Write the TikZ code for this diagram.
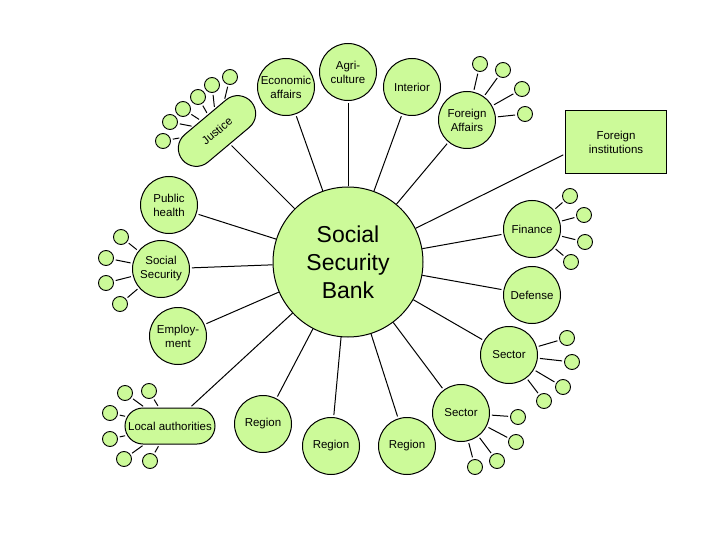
\documentclass[tikz,border=0pt]{standalone}
\usepackage{fontspec}
\setmainfont{Liberation Sans}
\usetikzlibrary{shapes.misc}
\definecolor{nodegreen}{RGB}{204,250,153}
\begin{document}
\begin{tikzpicture}[x=1pt,y=-1pt,
  ball/.style={circle,draw=black,fill=nodegreen,line width=1pt,minimum size=57pt,inner sep=0pt,align=center,font=\fontsize{11.5}{14}\selectfont},
  sat/.style={circle,draw=black,fill=nodegreen,line width=0.9pt,minimum size=15pt,inner sep=0pt},
  pill/.style={rounded rectangle,draw=black,fill=nodegreen,line width=1pt,minimum height=36pt,inner sep=2pt,font=\fontsize{11.5}{14}\selectfont},
  link/.style={line width=1pt,shorten >=2pt},
  stub/.style={line width=1pt,shorten >=2pt,shorten <=2pt}]
\useasboundingbox (0,0) rectangle (720,540);

% centre
\node[ball,minimum size=150pt,font=\fontsize{23}{28}\selectfont] (ssb) at (348,262) {Social\\Security\\Bank};

% main nodes
\node[ball] (econ) at (286,87) {Economic\\affairs};
\node[ball] (agri) at (348,72) {Agri-\\culture};
\node[ball] (inter) at (412,87) {Interior};
\node[ball] (fa) at (467,120) {Foreign\\Affairs};
\node[draw=black,fill=nodegreen,line width=1pt,minimum width=101pt,minimum height=63pt,inner sep=0pt,align=center,font=\fontsize{11.5}{14}\selectfont] (fi) at (616,142) {Foreign\\institutions};
\node[ball] (fin) at (532,229) {Finance};
\node[ball] (def) at (532,295) {Defense};
\node[ball] (sec1) at (509,355) {Sector};
\node[ball] (sec2) at (461,413) {Sector};
\node[ball] (reg3) at (407,446) {Region};
\node[ball] (reg2) at (331,446) {Region};
\node[ball] (reg1) at (263,424) {Region};
\node[pill,minimum width=94pt] (la) at (170,426) {Local authorities};
\node[ball] (emp) at (178,336) {Employ-\\ment};
\node[ball] (soc) at (161,269) {Social\\Security};
\node[ball] (ph) at (169,205) {Public\\health};
\node[pill,minimum width=94pt,rotate=40] (jus) at (217,131) {Justice};

% connectors from centre
\foreach \n in {econ,agri,inter,fa,fin,def,sec1,sec2,reg3,reg2,reg1,la,emp,soc,ph,jus}
  \draw[link] (ssb) -- (\n);
\draw[link] (ssb) -- ([yshift=-12pt]fi.west);

% satellites: Justice
\foreach \i/\p in {1/{(230,77)},2/{(212,85)},3/{(198,97)},4/{(183,109)},5/{(170,122)},6/{(163,141)}}{
  \node[sat] (js\i) at \p {};
  \draw[stub] (js\i) -- (jus);
}
% Foreign Affairs
\foreach \i/\p in {1/{(480,64)},2/{(503,70)},3/{(522,89)},4/{(525,114)}}{
  \node[sat] (fs\i) at \p {};
  \draw[stub] (fa) -- (fs\i);
}
% Finance
\foreach \i/\p in {1/{(570,196)},2/{(584,215)},3/{(585,242)},4/{(571,262)}}{
  \node[sat] (ns\i) at \p {};
  \draw[stub] (fin) -- (ns\i);
}
% Sector 1
\foreach \i/\p in {1/{(567,338)},2/{(572,362)},3/{(563,387)},4/{(544,401)}}{
  \node[sat] (s1s\i) at \p {};
  \draw[stub] (sec1) -- (s1s\i);
}
% Sector 2
\foreach \i/\p in {1/{(518,417)},2/{(516,442)},3/{(497,461)},4/{(475,467)}}{
  \node[sat] (s2s\i) at \p {};
  \draw[stub] (sec2) -- (s2s\i);
}
% Social Security
\foreach \i/\p in {1/{(121,237)},2/{(106,258)},3/{(106,283)},4/{(120,304)}}{
  \node[sat] (ss\i) at \p {};
  \draw[stub] (soc) -- (ss\i);
}
% Local authorities
\foreach \i/\p in {1/{(125,393)},2/{(149,391)},3/{(110,413)},4/{(110,439)},5/{(124,459)},6/{(150,461)}}{
  \node[sat] (ls\i) at \p {};
  \draw[stub] (la) -- (ls\i);
}
\end{tikzpicture}
\end{document}
